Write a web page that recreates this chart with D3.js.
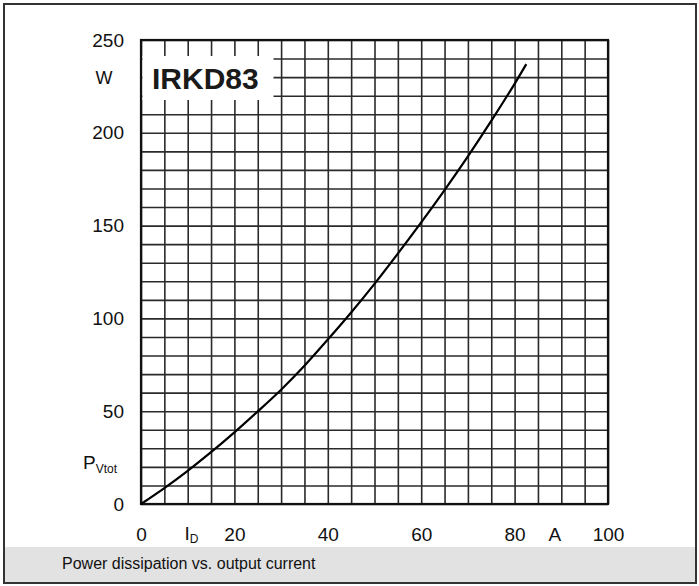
<!DOCTYPE html>
<html>
<head>
<meta charset="utf-8">
<script src="https://cdn.jsdelivr.net/npm/d3@7"></script>
<style>
  body { margin: 0; background: #fff; }
  svg { display: block; font-family: "Liberation Sans", Arial, sans-serif; }
</style>
</head>
<body>
<div id="chart"></div>
<script>
// Curve (I_D in A, P_Vtot in W)
const current = [0, 5, 10, 15, 20, 25, 30, 35, 40, 45, 50, 55, 60, 65, 70, 75, 80, 82.5];
const power   = [0, 8.6, 17.9, 27.9, 38.6, 49.9, 61.6, 74.5, 88.6, 103.2, 118.6, 134.9, 151.7, 169.1, 187.3, 206.4, 226.4, 237];

const xTicks = [0, 20, 40, 60, 80, 100];
const yTicks = [0, 50, 100, 150, 200, 250];
const xGrid = d3.range(0, 101, 5);
const yGrid = d3.range(0, 251, 10);

const width = 699, height = 586;
const plot = { left: 141, right: 608, top: 40, bottom: 504 };

const svg = d3.select("#chart").append("svg")
    .attr("width", width)
    .attr("height", height);

// Caption band
svg.append("rect")
    .attr("x", 4).attr("y", 547)
    .attr("width", 692).attr("height", 36)
    .attr("fill", "#e2e2e2");

svg.append("text")
    .attr("x", 62).attr("y", 569)
    .attr("font-size", 16)
    .attr("fill", "#111")
    .text("Power dissipation vs. output current");

// Outer frame
svg.append("rect")
    .attr("x", 4).attr("y", 4)
    .attr("width", 692).attr("height", 579)
    .attr("fill", "none")
    .attr("stroke", "#333")
    .attr("stroke-width", 2);

// Scales
const x = d3.scaleLinear().domain([0, 100]).range([plot.left, plot.right]);
const y = d3.scaleLinear().domain([0, 250]).range([plot.bottom, plot.top]);

// Grid
const grid = svg.append("g");
grid.append("g")
    .attr("transform", `translate(0,${plot.bottom})`)
    .call(d3.axisBottom(x).tickValues(xGrid).tickSize(-(plot.bottom - plot.top)).tickFormat(""))
    .call(g => g.select(".domain").remove())
    .call(g => g.selectAll("line").attr("stroke", "#2a2a2a").attr("stroke-width", 1.6));
grid.append("g")
    .attr("transform", `translate(${plot.left},0)`)
    .call(d3.axisLeft(y).tickValues(yGrid).tickSize(-(plot.right - plot.left)).tickFormat(""))
    .call(g => g.select(".domain").remove())
    .call(g => g.selectAll("line").attr("stroke", "#2a2a2a").attr("stroke-width", 1.6));

// Plot border
svg.append("rect")
    .attr("x", plot.left).attr("y", plot.top)
    .attr("width", plot.right - plot.left)
    .attr("height", plot.bottom - plot.top)
    .attr("fill", "none")
    .attr("stroke", "#111")
    .attr("stroke-width", 2.2);

// Tick labels
svg.append("g")
    .attr("transform", `translate(${plot.left},0)`)
    .call(d3.axisLeft(y).tickValues(yTicks).tickSize(0).tickPadding(17))
    .call(g => g.select(".domain").remove())
    .call(g => g.selectAll("text").attr("font-size", 19).attr("fill", "#111")
        .attr("font-family", "Liberation Sans, Arial, sans-serif"));

svg.append("g")
    .attr("transform", `translate(0,${plot.bottom})`)
    .call(d3.axisBottom(x).tickValues(xTicks).tickSize(0).tickPadding(24))
    .call(g => g.select(".domain").remove())
    .call(g => g.selectAll("text").attr("font-size", 19).attr("fill", "#111")
        .attr("font-family", "Liberation Sans, Arial, sans-serif"));

// Axis unit labels
svg.append("text")
    .attr("x", 104).attr("y", y(230) + 7)
    .attr("text-anchor", "middle")
    .attr("font-size", 18).attr("fill", "#111")
    .text("W");

const pLabel = svg.append("text")
    .attr("x", 83).attr("y", y(22) + 6)
    .attr("font-size", 19).attr("fill", "#111");
pLabel.append("tspan").text("P");
pLabel.append("tspan").attr("font-size", 12).attr("dy", 4).text("Vtot");

svg.append("text")
    .attr("x", x(88.6)).attr("y", plot.bottom + 37)
    .attr("text-anchor", "middle")
    .attr("font-size", 19).attr("fill", "#111")
    .text("A");

const iLabel = svg.append("text")
    .attr("x", x(9.3)).attr("y", plot.bottom + 36)
    .attr("font-size", 19).attr("fill", "#111");
iLabel.append("tspan").text("I");
iLabel.append("tspan").attr("font-size", 12).attr("dy", 3).text("D");

// Device label on white box
svg.append("rect")
    .attr("x", plot.left + 1.5).attr("y", 56)
    .attr("width", 131).attr("height", 44)
    .attr("fill", "#fff");
svg.append("text")
    .attr("x", 152).attr("y", 89)
    .attr("font-size", 30).attr("font-weight", "bold").attr("fill", "#1a1a1a")
    .text("IRKD83");

// Curve
const pts = current.map((c, i) => [c, power[i]]);
svg.append("path")
    .datum(pts)
    .attr("fill", "none")
    .attr("stroke", "#000")
    .attr("stroke-width", 2.2)
    .attr("d", d3.line().x(d => x(d[0])).y(d => y(d[1])).curve(d3.curveCatmullRom));
</script>
</body>
</html>
